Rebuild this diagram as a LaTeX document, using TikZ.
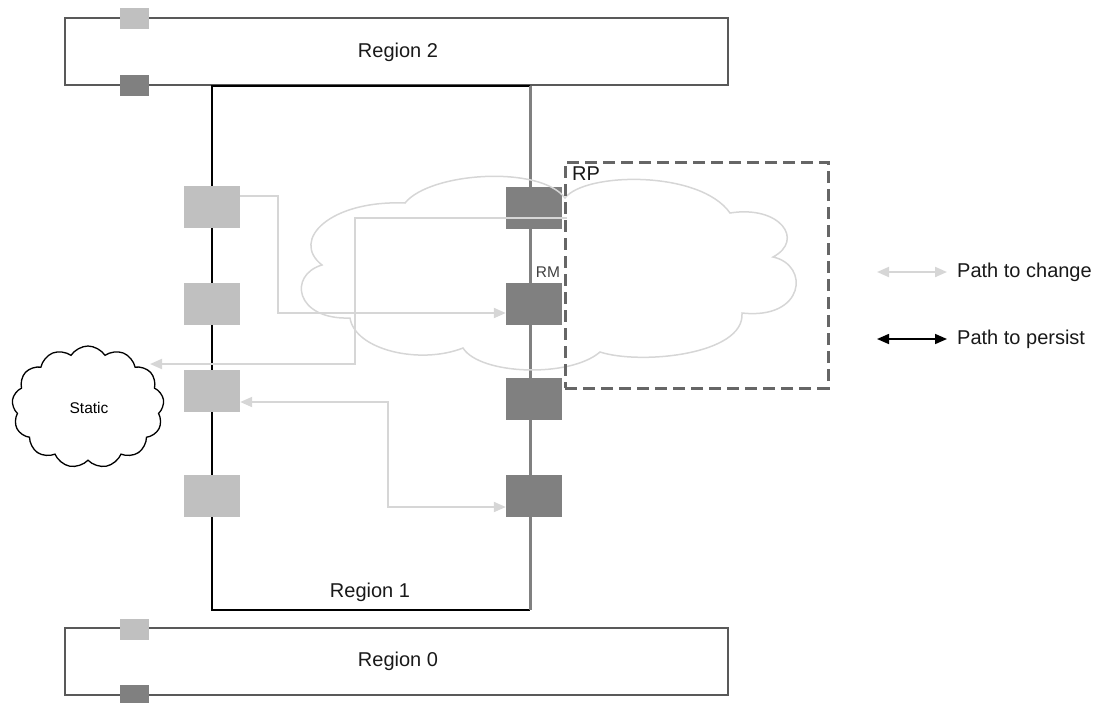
\documentclass[tikz,border=0pt]{standalone}
\usepackage{fontspec}
\setmainfont{Liberation Sans}
\usetikzlibrary{arrows.meta,shapes.symbols}
\definecolor{lightsq}{HTML}{C0C0C0}
\definecolor{darksq}{HTML}{808080}
\definecolor{pathc}{HTML}{D6D6D6}
\definecolor{boxc}{HTML}{595959}
\definecolor{rpc}{HTML}{666666}
\tikzset{
  lsq/.style={fill=lightsq,draw=none,minimum width=56pt,minimum height=42pt,inner sep=0pt},
  dsq/.style={fill=darksq,draw=none,minimum width=56pt,minimum height=42pt,inner sep=0pt},
  tlsq/.style={fill=lightsq,draw=none,minimum width=29pt,minimum height=21pt,inner sep=0pt},
  tdsq/.style={fill=darksq,draw=none,minimum width=29pt,minimum height=21pt,inner sep=0pt},
  region/.style={draw=boxc,line width=2pt},
  lbl/.style={font=\fontsize{20}{24}\selectfont,text=black!90,inner sep=0pt},
  small/.style={font=\fontsize{15.5}{18}\selectfont,inner sep=0pt},
  changepath/.style={draw=pathc,line width=2pt,arrows={-Triangle[length=12pt,width=10pt,fill=pathc]}},
  persistpath/.style={draw=black,line width=1.6pt,arrows={Triangle[length=12pt,width=10pt]-Triangle[length=12pt,width=10pt]}},
}
\begin{document}
\begin{tikzpicture}[x=1pt,y=-1pt]
\useasboundingbox (0,0) rectangle (1107,702);
% region boxes
\node[region,minimum width=663pt,minimum height=67pt,inner sep=0pt] (r2) at (396.5,51.5) {};
\node[region,minimum width=663pt,minimum height=67pt,inner sep=0pt] (r0) at (396.5,661.5) {};
\node[lbl] at (398,52) {Region 2};
\node[lbl] at (398,661) {Region 0};
% Region 1
\coordinate (r1tl) at (212,86);
\coordinate (r1tr) at (530,86);
\coordinate (r1bl) at (212,610);
\coordinate (r1br) at (530,610);
\draw[black,line width=1.5pt] (r1tr) -- (r1tl) -- (r1bl) -- (r1br);
\draw[darksq,line width=3pt] (r1tr) -- (r1br);
\node[lbl] at (370,592) {Region 1};
% small squares on region bars
\node[tlsq] (t2a) at (134,18) {};
\node[tdsq] (t2b) at (134,85) {};
\node[tlsq] (t0a) at (134,629) {};
\node[tdsq] (t0b) at (134,695) {};
% left squares
\node[lsq] (L1) at (212,207) {};
\node[lsq] (L2) at (212,304) {};
\node[lsq] (L3) at (212,391) {};
\node[lsq] (L4) at (212,496) {};
% right squares
\node[dsq] (R1) at (534,208) {};
\node[dsq] (R2) at (534,304) {};
\node[dsq] (R3) at (534,399) {};
\node[dsq] (R4) at (534,496) {};
% big cloud
\draw[pathc,line width=1.5pt]
  (405,203) .. controls (430,172) and (540,165) .. (565,198)
  .. controls (585,172) and (700,170) .. (730,213)
  .. controls (780,205) and (805,240) .. (773,257)
  .. controls (810,265) and (805,320) .. (742,313)
  .. controls (745,355) and (640,365) .. (600,352)
  .. controls (570,378) and (480,375) .. (463,348)
  .. controls (420,365) and (355,350) .. (350,318)
  .. controls (295,320) and (288,275) .. (322,265)
  .. controls (290,240) and (330,200) .. (405,203) -- cycle;
% RP dashed box
\node[draw=rpc,line width=3pt,dash pattern=on 12pt off 6pt,minimum width=263pt,minimum height=226pt,inner sep=0pt] (RP) at (696.5,275) {};
\node[lbl,anchor=north west] (RPl) at (572,167) {RP};
\node[small,text=black!75] (RM) at (548,272) {RM};
% static cloud
\node[cloud,draw=black,line width=1.3pt,cloud puffs=13,cloud puff arc=115,aspect=1.2,minimum width=152pt,minimum height=122pt,inner sep=0pt,fill=white] (static) at (88,407) {};
\node[small] at (89,408) {Static};
% connectors
\coordinate (sbend) at (355,364);
\coordinate (stip) at (150,364);
\draw[changepath] ([yshift=11pt]L1.east) -- ++(38,0) |- ([yshift=-9pt]R2.west);
\draw[changepath] ([xshift=5pt,yshift=-10pt]R1.east) -| (sbend) -- (stip);
\draw[changepath,arrows={Triangle[length=12pt,width=10pt,fill=pathc]-Triangle[length=12pt,width=10pt,fill=pathc]}] ([yshift=-11pt]L3.east) -- ++(148,0) |- ([yshift=-11pt]R4.west);
% legend
\coordinate (lg1a) at (877,272);
\coordinate (lg1b) at (947,272);
\coordinate (lg2a) at (877,339);
\coordinate (lg2b) at (947,339);
\draw[changepath,arrows={Triangle[length=12pt,width=10pt,fill=pathc]-Triangle[length=12pt,width=10pt,fill=pathc]}] (lg1a) -- (lg1b);
\draw[persistpath] (lg2a) -- (lg2b);
\node[lbl,anchor=west] (lgt1) at (957,272) {Path to change};
\node[lbl,anchor=west] (lgt2) at (957,339) {Path to persist};
\end{tikzpicture}
\end{document}
